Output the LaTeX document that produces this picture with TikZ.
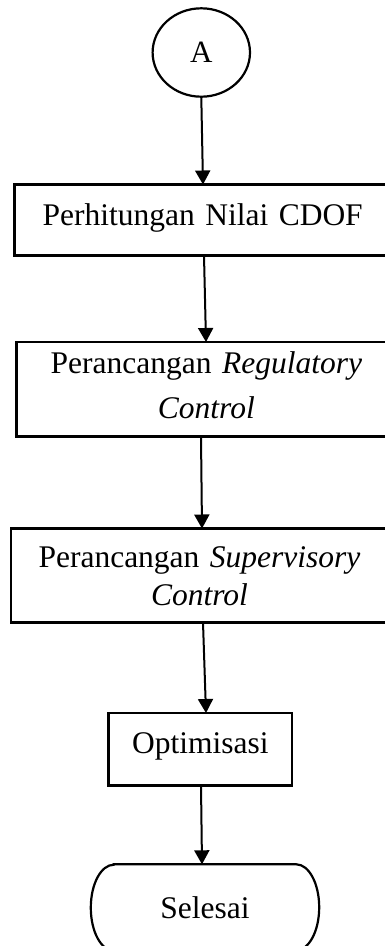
\documentclass[tikz,border=0pt]{standalone}
\usepackage{fontspec}
\setmainfont{Liberation Serif}
\usetikzlibrary{arrows.meta,shapes.geometric}
\begin{document}
\begin{tikzpicture}[x=1pt,y=1pt,
  flowbox/.style={draw, rectangle, line width=2.7pt, inner sep=0pt, outer sep=0pt,
    align=center, anchor=north west},
  flow/.style={line width=2pt, -{Triangle[length=14pt,width=15pt]}},
  bodyfont/.style={font=\fontsize{31.5}{#1}\selectfont},
]
\useasboundingbox (0,0) rectangle (384,-946);

% off-page connector A
\node[draw, ellipse, line width=2.2pt, minimum width=97.4pt, minimum height=88.4pt,
  inner sep=0pt, font=\fontsize{31}{37}\selectfont] (A) at (201.3,-52.5) {A};

% process steps
\node[flowbox, bodyfont=38, text width=376.7pt, text height=40.5pt, text depth=30.5pt]
  (cdof) at (14.3,-184.5) {Perhitungan Nilai CDOF};
\node[flowbox, bodyfont=45, text width=379.3pt, text height=31pt, text depth=63.5pt]
  (reg) at (16.7,-342) {Perancangan \textit{Regulatory}\\\textit{Control}};
\node[flowbox, bodyfont=38, text width=377pt, text height=38.5pt, text depth=55.5pt]
  (sup) at (11,-528.5) {Perancangan \textit{Supervisory}\\\textit{Control}};
\node[flowbox, bodyfont=38, text width=183.3pt, text height=40pt, text depth=32.3pt]
  (opt) at (108.7,-713) {Optimisasi};

% terminator
\node[inner sep=0pt, minimum width=228pt, minimum height=86pt, bodyfont=38]
  (end) at (205,-907.5) {Selesai};
\draw[line width=2.2pt]
  ([xshift=23pt]end.north west) -- ([xshift=-23pt]end.north east)
  arc[start angle=90, end angle=-90, x radius=23pt, y radius=43pt]
  -- ([xshift=23pt]end.south west)
  arc[start angle=270, end angle=90, x radius=23pt, y radius=43pt] -- cycle;

% flow arrows
\draw[flow] (A.south) -- ([xshift=0.35pt]cdof.north);
\draw[flow] ([xshift=1.35pt]cdof.south) -- ([xshift=-0.35pt]reg.north);
\draw[flow] ([xshift=-5.35pt]reg.south) -- ([xshift=2.5pt]sup.north);
\draw[flow] ([xshift=3.5pt]sup.south) -- ([xshift=5.65pt]opt.north);
\draw[flow] ([xshift=0.65pt]opt.south) -- ([xshift=-3pt]end.north);
\end{tikzpicture}
\end{document}
